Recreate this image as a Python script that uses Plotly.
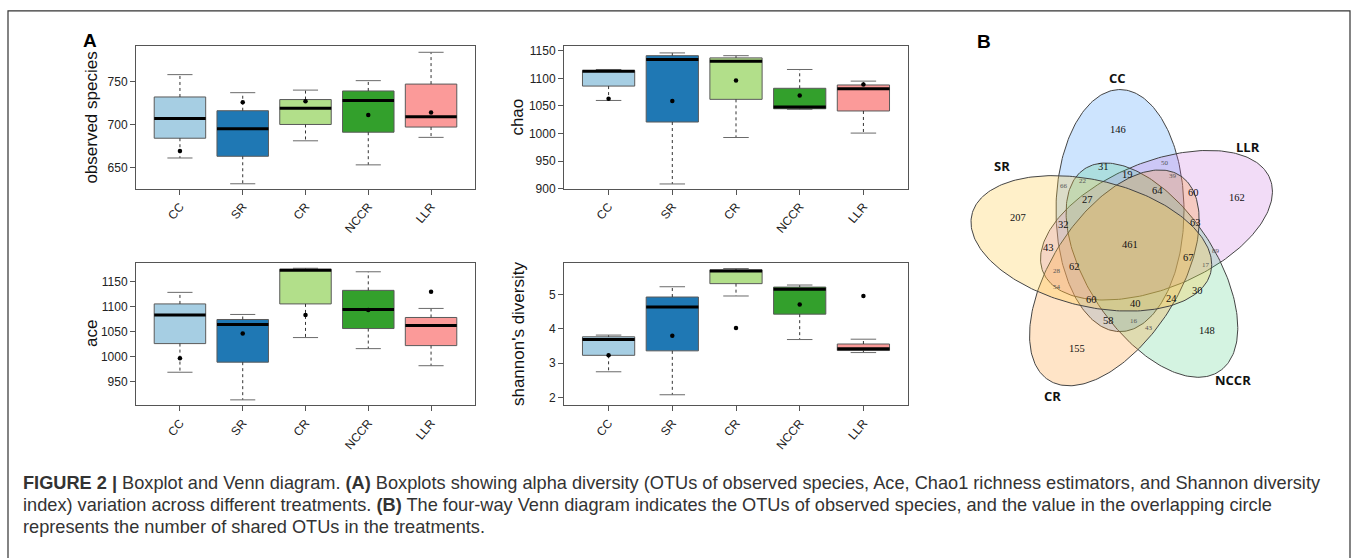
import numpy as np
import plotly.graph_objects as go

W, H = 1358, 558

categories = ["CC", "SR", "CR", "NCCR", "LLR"]
box_colors = ["#a6cee3", "#1f78b4", "#b2df8a", "#33a02c", "#fb9a99"]

# observed species
obs_lower = [661, 631, 681, 653, 685]
obs_q1 = [684, 663, 700, 691, 697]
obs_median = [707, 695, 719, 728, 709]
obs_q3 = [732, 716, 729, 739, 747]
obs_upper = [758, 737, 740, 751, 784]
obs_mean = [669, 726, 727, 711, 714]

# chao
chao_lower = [1060, 909, 993, 1044, 1001]
chao_q1 = [1086, 1021, 1062, 1045, 1041]
chao_median = [1113, 1134, 1131, 1048, 1081]
chao_q3 = [1114, 1141, 1137, 1082, 1088]
chao_upper = [1116, 1146, 1141, 1116, 1095]
chao_mean = [1063, 1059, 1096, 1069, 1089]

# ace
ace_lower = [969, 914, 1038, 1016, 982]
ace_q1 = [1026, 989, 1105, 1056, 1022]
ace_median = [1083, 1064, 1172, 1094, 1062]
ace_q3 = [1105, 1074, 1174, 1132, 1078]
ace_upper = [1128, 1084, 1176, 1169, 1096]
ace_mean = [997, 1046, 1083, 1093, 1129]

# shannon's diversity
sh_lower = [2.75, 2.08, 4.96, 3.69, 3.31]
sh_q1 = [3.23, 3.36, 5.32, 4.43, 3.37]
sh_median = [3.69, 4.64, 5.69, 5.16, 3.42]
sh_q3 = [3.77, 4.93, 5.72, 5.22, 3.56]
sh_upper = [3.82, 5.23, 5.76, 5.28, 3.70]
sh_mean = [3.23, 3.80, 4.03, 4.71, 4.96]

# Venn diagram
venn_sets = ["CC", "LLR", "NCCR", "CR", "SR"]
venn_counts = [146, 162, 148, 155, 207, 31, 50, 19, 39, 66, 22, 64, 60, 27, 32, 63,
               461, 43, 62, 89, 67, 17, 28, 54, 60, 40, 24, 30, 58, 16, 43]

# ---------------- layout geometry (pixels) ----------------
venn_count_pos = [(1118, 130), (1237, 199), (1207, 334), (1077, 352), (1018, 219),
                  (1103, 167), (1165, 164), (1127, 175), (1173, 177), (1064, 187),
                  (1083, 182), (1157, 192), (1193, 194), (1087, 201), (1063, 226),
                  (1195, 224), (1130, 246), (1048, 250), (1074, 269), (1216, 253),
                  (1188, 260), (1206, 267), (1057, 273), (1057, 290), (1091, 302),
                  (1135, 306), (1171, 301), (1197, 293), (1108, 324), (1134, 324),
                  (1149, 331)]
venn_small = [False, False, False, False, False, False, True, False, True, True,
              True, False, False, False, False, False, False, False, False, True,
              False, True, True, True, False, False, False, False, False, True, True]
venn_label_pos = [(1117, 77), (1248, 147), (1233, 384), (1052, 400), (1002, 167)]
venn_fill = ["rgba(40,140,250,0.23)", "rgba(200,110,220,0.24)", "rgba(60,200,120,0.22)",
             "rgba(255,150,40,0.26)", "rgba(255,200,60,0.28)"]
venn_center = (1127, 247)
venn_offset = (-7, -35)
venn_a, venn_b = 123, 64
venn_angles = [0, 67, 147, 212, 284]

panels = [
    dict(name="observed species", lo=obs_lower, q1=obs_q1, med=obs_median, q3=obs_q3,
         hi=obs_upper, mean=obs_mean, px=(136, 475), py=(45, 190), yr=(625, 791),
         ticks=[650, 700, 750], tx=92),
    dict(name="chao", lo=chao_lower, q1=chao_q1, med=chao_median, q3=chao_q3,
         hi=chao_upper, mean=chao_mean, px=(564, 908), py=(45, 190), yr=(900, 1158),
         ticks=[900, 950, 1000, 1050, 1100, 1150], tx=518),
    dict(name="ace", lo=ace_lower, q1=ace_q1, med=ace_median, q3=ace_q3,
         hi=ace_upper, mean=ace_mean, px=(136, 475), py=(265, 410), yr=(903, 1187),
         ticks=[950, 1000, 1050, 1100, 1150], tx=91),
    dict(name="shannon's diversity", lo=sh_lower, q1=sh_q1, med=sh_median, q3=sh_q3,
         hi=sh_upper, mean=sh_mean, px=(564, 908), py=(265, 410), yr=(1.77, 5.93),
         ticks=[2, 3, 4, 5], tx=518),
]


def xp(px):
    return px / W


def yp(py):
    return 1 - py / H


fig = go.Figure()
layout = dict(width=W, height=H, margin=dict(l=0, r=0, t=0, b=0),
              paper_bgcolor="white", plot_bgcolor="white", showlegend=False)
annotations = []
shapes = []

BW = 0.41
CW = 0.2
FONT = "Liberation Sans, Arial, sans-serif"

for k, p in enumerate(panels):
    sx = "" if k == 0 else str(k + 1)
    xa, ya = "x" + sx, "y" + sx
    idx = list(range(len(categories)))
    for i in idx:
        fig.add_trace(go.Scatter(
            x=[i - BW, i + BW, i + BW, i - BW, i - BW],
            y=[p["q1"][i], p["q1"][i], p["q3"][i], p["q3"][i], p["q1"][i]],
            mode="lines", fill="toself", fillcolor=box_colors[i],
            line=dict(color="#5a5a5a", width=1), xaxis=xa, yaxis=ya, hoverinfo="skip"))
    wx, wy, cx, cy, mx, my = [], [], [], [], [], []
    for i in idx:
        wx += [i, i, None, i, i, None]
        wy += [p["q3"][i], p["hi"][i], None, p["q1"][i], p["lo"][i], None]
        cx += [i - CW, i + CW, None, i - CW, i + CW, None]
        cy += [p["hi"][i], p["hi"][i], None, p["lo"][i], p["lo"][i], None]
        mx += [i - BW, i + BW, None]
        my += [p["med"][i], p["med"][i], None]
    fig.add_trace(go.Scatter(x=wx, y=wy, mode="lines", xaxis=xa, yaxis=ya,
                             line=dict(color="#333333", width=1, dash="3px,3px"),
                             hoverinfo="skip"))
    fig.add_trace(go.Scatter(x=cx, y=cy, mode="lines", xaxis=xa, yaxis=ya,
                             line=dict(color="#6a6a6a", width=1), hoverinfo="skip"))
    fig.add_trace(go.Scatter(x=mx, y=my, mode="lines", xaxis=xa, yaxis=ya,
                             line=dict(color="black", width=3), hoverinfo="skip"))
    fig.add_trace(go.Scatter(x=idx, y=p["mean"], mode="markers", xaxis=xa, yaxis=ya,
                             marker=dict(color="black", size=4.5, symbol="circle"),
                             hoverinfo="skip"))
    axstyle = dict(showline=True, mirror=True, linecolor="#555555", linewidth=1,
                   ticks="outside", ticklen=5, tickcolor="#555555", showgrid=False,
                   zeroline=False, tickfont=dict(family=FONT, size=12, color="#222222"))
    layout["xaxis" + sx] = dict(axstyle, domain=[xp(p["px"][0]), xp(p["px"][1])],
                                anchor=ya, range=[-0.7, 4.7], tickmode="array",
                                tickvals=idx, ticktext=categories, tickangle=-50)
    layout["yaxis" + sx] = dict(axstyle, domain=[yp(p["py"][1]), yp(p["py"][0])],
                                anchor=xa, range=list(p["yr"]), tickmode="array",
                                tickvals=p["ticks"], ticktext=[str(t) for t in p["ticks"]])
    annotations.append(dict(text=p["name"], xref="paper", yref="paper",
                            x=xp(p["tx"]), y=yp((p["py"][0] + p["py"][1]) / 2),
                            textangle=-90, showarrow=False, xanchor="center",
                            yanchor="middle", font=dict(family=FONT, size=17, color="#111111")))

# ---------------- Venn diagram ----------------
vx, vy = "x5", "y5"
t = np.linspace(0, 2 * np.pi, 241)
for k, ang in enumerate(venn_angles):
    th = np.deg2rad(ang)
    c, s = np.cos(th), np.sin(th)
    ox, oy = venn_offset
    ccx = venn_center[0] + ox * c - oy * s
    ccy = venn_center[1] + ox * s + oy * c
    lx = venn_b * np.cos(t)
    ly = venn_a * np.sin(t)
    ex = ccx + lx * c - ly * s
    ey = ccy + lx * s + ly * c
    fig.add_trace(go.Scatter(x=ex, y=ey, mode="lines", fill="toself",
                             fillcolor=venn_fill[k], line=dict(color="#444444", width=1),
                             xaxis=vx, yaxis=vy, hoverinfo="skip"))
for n, (px, py), sm in zip(venn_counts, venn_count_pos, venn_small):
    annotations.append(dict(text=str(n), x=px, y=py, xref=vx, yref=vy, showarrow=False,
                            xanchor="center", yanchor="middle",
                            font=dict(family="Liberation Serif, serif",
                                      size=7 if sm else 10.5,
                                      color="#555555" if sm else "#111111")))
for name, (px, py) in zip(venn_sets, venn_label_pos):
    annotations.append(dict(text="<b>" + name + "</b>", x=px, y=py, xref=vx, yref=vy,
                            showarrow=False, xanchor="center", yanchor="middle",
                            font=dict(family="Open Sans, sans-serif", size=13, color="#111111")))
layout["xaxis5"] = dict(domain=[xp(960), xp(1300)], range=[960, 1300], visible=False,
                        anchor="y5")
layout["yaxis5"] = dict(domain=[yp(420), yp(60)], range=[420, 60], visible=False,
                        anchor="x5")

# panel letters
annotations.append(dict(text="<b>A</b>", x=xp(90), y=yp(39), xref="paper", yref="paper",
                        xanchor="center", yanchor="middle", showarrow=False,
                        font=dict(family=FONT, size=19, color="black")))
annotations.append(dict(text="<b>B</b>", x=xp(984), y=yp(40), xref="paper", yref="paper",
                        xanchor="center", yanchor="middle", showarrow=False,
                        font=dict(family=FONT, size=19, color="black")))

# caption
caption_lines = [
    "<b>FIGURE 2 |</b> Boxplot and Venn diagram. <b>(A)</b> Boxplots showing alpha diversity "
    "(OTUs of observed species, Ace, Chao1 richness estimators, and Shannon diversity",
    "index) variation across different treatments. <b>(B)</b> The four-way Venn diagram "
    "indicates the OTUs of observed species, and the value in the overlapping circle",
    "represents the number of shared OTUs in the treatments.",
]
for j, line in enumerate(caption_lines):
    annotations.append(dict(text=line, x=xp(21), y=yp(489 + 22.5 * j), xref="paper",
                            yref="paper", xanchor="left", yanchor="middle", showarrow=False,
                            font=dict(family=FONT, size=18.2, color="#333333")))

# outer frame
shapes.append(dict(type="rect", xref="paper", yref="paper", x0=xp(8), x1=xp(1350),
                   y0=-0.1, y1=yp(9), line=dict(color="#333333", width=1.2)))

layout["annotations"] = annotations
layout["shapes"] = shapes
fig.update_layout(**layout)
fig.write_html("out.html", config={"displayModeBar": False},
               post_script="document.body.style.margin='0px';document.body.style.padding='0px';")
